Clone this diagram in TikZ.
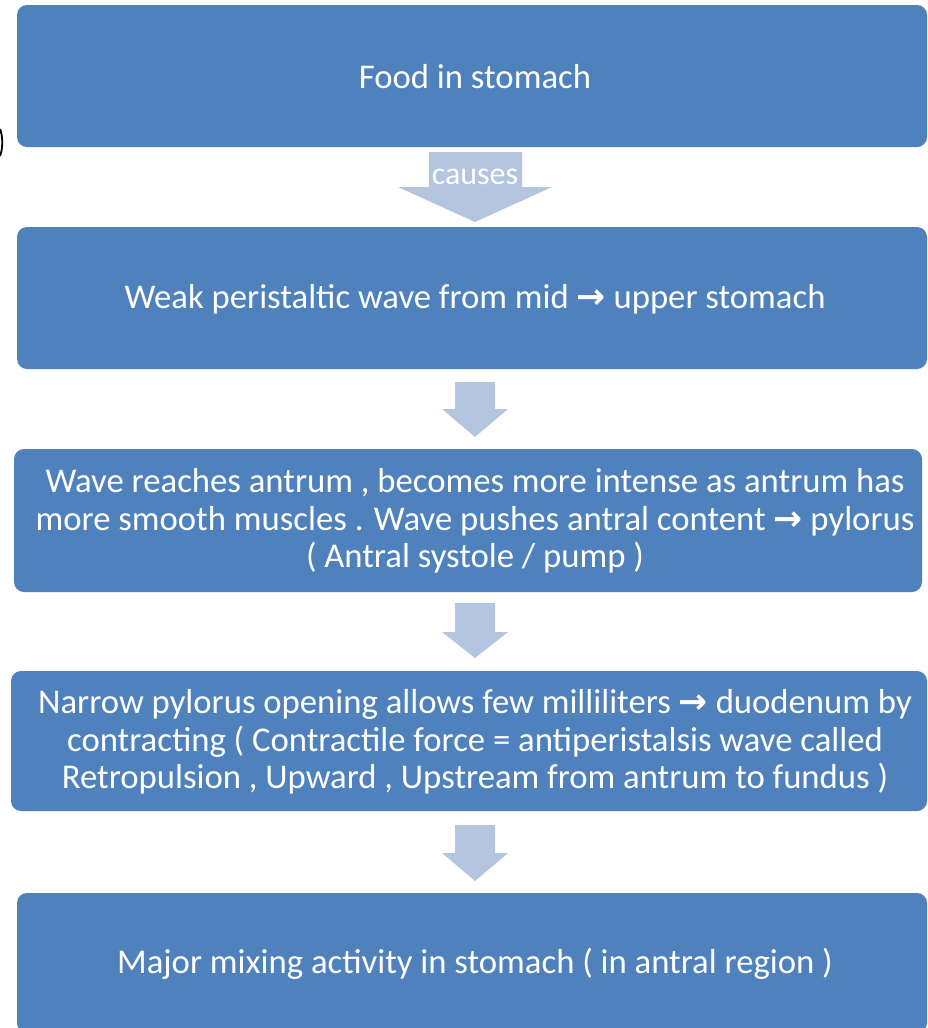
\documentclass[tikz,border=0pt]{standalone}
\usepackage{fontspec}
\setmainfont{Carlito}
\newfontfamily\symfont{DejaVu Sans}
\newcommand{\rarr}{{\symfont\bfseries →}}
\definecolor{boxblue}{RGB}{79,129,189}
\definecolor{arrowblue}{RGB}{180,197,224}
\begin{document}
\begin{tikzpicture}[x=1pt,y=-1pt,
  bluebox/.style={fill=boxblue,draw=none,rounded corners=10pt,rectangle,inner sep=0pt},
  boxtext/.style={text=white,align=center,inner sep=0pt,font=\fontsize{34.7}{37.7}\selectfont},
  blockarrow/.style={fill=arrowblue,draw=none}]
\useasboundingbox (0,0) rectangle (927,1028);
% boxes
\node[bluebox,minimum width=910pt,minimum height=142pt] (b1) at (472,76) {};
\node[bluebox,minimum width=910pt,minimum height=142pt] (b2) at (472,298) {};
\node[bluebox,minimum width=908pt,minimum height=143pt] (b3) at (468,520.5) {};
\node[bluebox,minimum width=916pt,minimum height=140pt] (b4) at (469,741) {};
\node[bluebox,minimum width=910pt,minimum height=140pt] (b5) at (472,963) {};
% texts
\node[boxtext] (t1) at (475,77) {Food in stomach};
\node[boxtext] (t2) at (475,299) {Weak peristaltic wave from mid \rarr\ upper stomach};
\node[boxtext] (t3) at (475,521) {Wave reaches antrum , becomes more intense as antrum has\\more smooth muscles . Wave pushes antral content \rarr\ pylorus\\( Antral systole / pump )};
\node[boxtext] (t4) at (475,742) {Narrow pylorus opening allows few milliliters \rarr\ duodenum by\\contracting ( Contractile force = antiperistalsis wave called\\Retropulsion , Upward , Upstream from antrum to fundus )};
\node[boxtext] (t5) at (475,964) {Major mixing activity in stomach ( in antral region )};
% block arrows
\fill[blockarrow] (429,152) -- (522,152) -- (522,187) -- (552,187) -- (475,222) -- (398,187) -- (429,187) -- cycle;
\node[text=white,inner sep=0pt,font=\fontsize{32}{36}\selectfont] (c1) at (475,177) {causes};
\fill[blockarrow] (455,382) -- (495,382) -- (495,409) -- (508,409) -- (475,437) -- (442,409) -- (455,409) -- cycle;
\fill[blockarrow] (455,603) -- (495,603) -- (495,632) -- (508,632) -- (475,658) -- (442,632) -- (455,632) -- cycle;
\fill[blockarrow] (455,825) -- (495,825) -- (495,853) -- (508,853) -- (475,881) -- (442,853) -- (455,853) -- cycle;
% stray arc at left edge
\draw[line width=1.8pt,black] (0,129) .. controls (3,136) and (3,149) .. (0,156);
\end{tikzpicture}
\end{document}
